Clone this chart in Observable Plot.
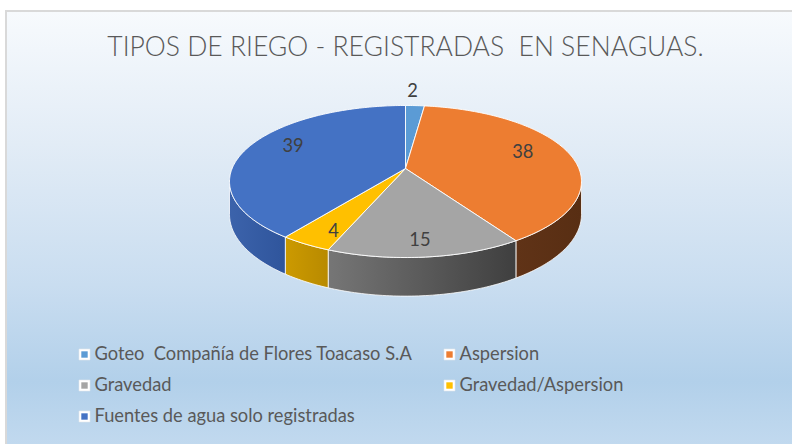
<!DOCTYPE html>
<html>
<head>
<meta charset="utf-8">
<script src="https://cdn.jsdelivr.net/npm/d3@7"></script>
<script src="https://cdn.jsdelivr.net/npm/@observablehq/plot@0.6"></script>
<style>
  html, body { margin: 0; padding: 0; background: #ffffff; }
  #wrap { position: relative; width: 792px; height: 444px; overflow: hidden; }
  #frame {
    position: absolute; left: 5px; top: 10px; width: 800px; height: 440px;
    border-left: 2px solid #d9d9d9; border-top: 2px solid #d9d9d9;
    background: linear-gradient(to bottom, #f7fafd 0%, #e2ecf6 30%, #c9ddf0 62%, #b2d0ea 84%, #c3daef 100%);
  }
  #chart { position: absolute; left: 0; top: 0; }
  svg text { white-space: pre; }
</style>
</head>
<body>
<div id="wrap"><div id="frame"></div><div id="chart"></div></div>
<script>
// ---- data ----
const categories = ["Goteo  Compañía de Flores Toacaso S.A", "Aspersion", "Gravedad", "Gravedad/Aspersion", "Fuentes de agua solo registradas"];
const values = [2, 38, 15, 4, 39];
const title = "TIPOS DE RIEGO - REGISTRADAS  EN SENAGUAS.";

// ---- style ----
const topColors = ["#5b9bd5", "#ed7d31", "#a5a5a5", "#ffc000", "#4472c4"];
const wallColors = [["#4a82b8", "#3f73a6"], ["#603317", "#582e13"], ["#767676", "#3f3f3f"], ["#cc9a00", "#b88a00"], ["#3c63ab", "#2f559c"]];

// ---- perspective pie geometry ----
const CX = 405, CY = 168, W = 173.4, WS = 73.8, K = 0.171, H = 32;
const rad = d => d * Math.PI / 180;
function proj(theta, f = 1, drop = 0) {
  const s = Math.sin(rad(theta)), c = Math.cos(rad(theta));
  const d = 1 + K * f * c;
  return {x: CX + W * f * s / d, y: CY - WS * f * c / d + drop / d};
}
const total = d3.sum(values);
let acc = 0;
const slices = values.map((v, i) => {
  const a0 = acc / total * 360; acc += v; const a1 = acc / total * 360;
  return {i, v, a0, a1, key: categories[i]};
});
function arcPts(a, b, drop) {
  const n = Math.max(2, Math.ceil(Math.abs(b - a)));
  return d3.range(n + 1).map(j => proj(a + (b - a) * j / n, 1, drop));
}
const topPts = [];
slices.forEach(s => {
  const pts = [proj(0, 0), ...arcPts(s.a0, s.a1, 0), proj(0, 0)];
  pts.forEach(p => topPts.push({...p, key: s.key, fill: topColors[s.i]}));
});
const sil = Math.acos(-K) * 180 / Math.PI; // visible wall from sil .. 360-sil
const wallPts = [];
slices.forEach(s => {
  const a = Math.max(s.a0, sil), b = Math.min(s.a1, 360 - sil);
  if (b <= a) return;
  const pts = [...arcPts(a, b, 0), ...arcPts(b, a, H)];
  pts.push(pts[0]);
  pts.forEach(p => wallPts.push({...p, key: s.key, fill: `url(#wall${s.i})`}));
});
// data label anchor: along the slice's mid-angle
function labelPos(theta, outside) {
  const s = Math.sin(rad(theta)), c = Math.cos(rad(theta));
  const fx = outside ? 0.75 : 0.72, fy = outside ? 1.05 : 0.97;
  return {x: CX + W * fx * s / (1 + K * c), y: CY - WS * fy * c};
}
const labels = slices.map(s => {
  const mid = (s.a0 + s.a1) / 2;
  const outside = (s.a1 - s.a0) < 10;
  return {...labelPos(mid, outside), text: String(s.v)};
});
const legend = categories.map((c, i) => ({
  col: i % 2, row: Math.floor(i / 2), text: c, color: topColors[i]
}));
const legX = [84, 449], legY0 = 354, legDy = 31;

const svg = Plot.plot({
  width: 792, height: 444,
  margin: 0,
  x: {domain: [0, 792], range: [0, 792], axis: null},
  y: {domain: [0, 444], range: [0, 444], axis: null},
  color: {type: "identity"},
  style: {background: "transparent", fontFamily: "Lato, 'Open Sans', sans-serif"},
  marks: [
    Plot.line(wallPts, {x: "x", y: "y", z: "key", fill: "fill", stroke: "#ffffff", strokeOpacity: 0.8, strokeWidth: 1, curve: "linear"}),
    Plot.line(topPts, {x: "x", y: "y", z: "key", fill: "fill", stroke: "#ffffff", strokeOpacity: 0.9, strokeWidth: 1, curve: "linear"}),
    Plot.text(labels, {x: "x", y: "y", text: "text", fontSize: 18.3, fill: "#404040"}),
    Plot.text([title], {x: () => 405, y: () => 47, text: d => d, fontSize: 26.5, fontWeight: 300, fill: "#595959"}),
    Plot.dot(legend, {x: d => legX[d.col], y: d => legY0 + d.row * legDy, symbol: "square", r: 6.2, fill: "#ffffff", stroke: "#e4e8ec", strokeWidth: 0.6}),
    Plot.dot(legend, {x: d => legX[d.col], y: d => legY0 + d.row * legDy, symbol: "square", r: 3.6, fill: "color"}),
    Plot.text(legend, {x: d => legX[d.col] + 10, y: d => legY0 + d.row * legDy, text: "text", textAnchor: "start", fontSize: 18.3, fill: "#595959"})
  ]
});

// gradients for the side walls
const defs = d3.select(svg).insert("defs", ":first-child");
wallColors.forEach((wc, i) => {
  const g = defs.append("linearGradient").attr("id", `wall${i}`).attr("x1", "0").attr("x2", "1").attr("y1", "0").attr("y2", "0");
  g.append("stop").attr("offset", "0%").attr("stop-color", wc[0]);
  g.append("stop").attr("offset", "100%").attr("stop-color", wc[1]);
});
document.getElementById("chart").appendChild(svg);
</script>
</body>
</html>
